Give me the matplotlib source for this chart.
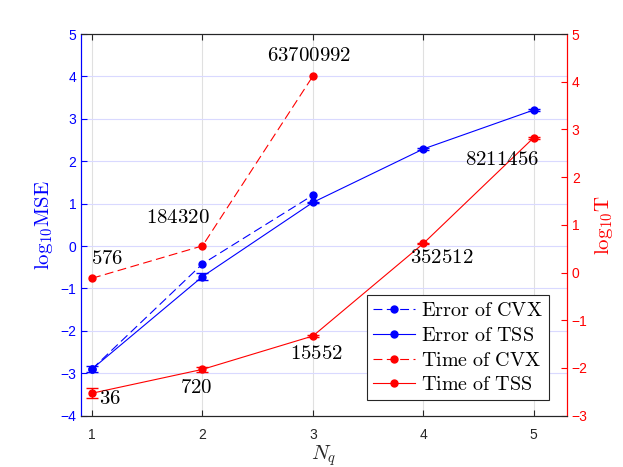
import matplotlib
matplotlib.use('Agg')
import matplotlib.pyplot as plt

plt.rcParams['mathtext.fontset'] = 'cm'
plt.rcParams['font.family'] = ['Liberation Sans', 'DejaVu Sans']

# data
nq = [1, 2, 3, 4, 5]
err_cvx = [-2.90, -0.42, 1.20]
err_tss = [-2.90, -0.72, 1.03, 2.29, 3.21]
err_tss_bar = [0.07, 0.08, 0.02, 0.02, 0.02]
time_cvx = [-0.12, 0.56, 4.12]
time_tss = [-2.53, -2.03, -1.33, 0.61, 2.83]
time_tss_bar = [0.10, 0.05, 0.02, 0.02, 0.02]

# size labels next to the time points (text, x, y on right axis)
labels = ['576', '184320', '63700992', '36', '720', '15552', '352512', '8211456']
label_x = [1.14, 1.78, 2.97, 1.16, 1.94, 3.03, 4.17, 4.71]
label_y = [0.30, 1.16, 4.56, -2.64, -2.42, -1.69, 0.32, 2.37]

blue = (0, 0, 1)
red = (1, 0, 0)
dark = (0.15, 0.15, 0.15)

fig = plt.figure(figsize=(6.23, 4.67), dpi=100)
ax1 = fig.add_axes([0.130, 0.110, 0.780, 0.817])
ax2 = ax1.twinx()

l1, = ax1.plot(nq[:3], err_cvx, '--', color=blue, marker='o', ms=5, lw=0.8,
               dashes=(8, 4))
l2 = ax1.errorbar(nq, err_tss, yerr=err_tss_bar, color=blue, marker='o', ms=5,
                  lw=0.8, capsize=4, elinewidth=0.8)
l3, = ax2.plot(nq[:3], time_cvx, '--', color=red, marker='o', ms=5, lw=0.8,
               dashes=(8, 4))
l4 = ax2.errorbar(nq, time_tss, yerr=time_tss_bar, color=red, marker='o', ms=5,
                  lw=0.8, capsize=4, elinewidth=0.8)

for t, x, y in zip(labels, label_x, label_y):
    ax2.text(x, y, r'$\mathrm{%s}$' % t, ha='center', va='center', fontsize=15)

ax1.set_xlim(0.9, 5.3)
ax1.set_ylim(-4, 5)
ax2.set_ylim(-3, 5)
ax1.set_xticks(nq)
ax1.set_yticks(range(-4, 6))
ax2.set_yticks(range(-3, 6))

ax1.set_xlabel(r'$N_q$', fontsize=15, color=dark, labelpad=1)
ax1.set_ylabel(r'$\mathrm{log}_{10}\mathrm{MSE}$', fontsize=15, color=blue, labelpad=4)
ax2.set_ylabel(r'$\mathrm{log}_{10}\mathrm{T}$', fontsize=15, color=red, labelpad=4)

ax1.yaxis.grid(True, color=(0.85, 0.85, 1.0), lw=0.8)
ax1.xaxis.grid(True, color=(0.88, 0.88, 0.88), lw=0.8)
ax1.set_axisbelow(True)

ax1.tick_params(axis='x', direction='in', top=True, colors=dark,
                labelsize=10, length=4, pad=9)
ax1.tick_params(axis='y', direction='in', colors=blue, labelsize=10, length=4)
ax2.tick_params(axis='y', direction='in', colors=red, labelsize=10, length=4)

for ax in (ax1, ax2):
    ax.spines['left'].set_color(blue)
    ax.spines['right'].set_color(red)
    ax.spines['top'].set_color(dark)
    ax.spines['bottom'].set_color(dark)

leg = ax2.legend([l1, l2[0], l3, l4[0]],
                 [r'$\mathrm{Error\ of\ CVX}$', r'$\mathrm{Error\ of\ TSS}$',
                  r'$\mathrm{Time\ of\ CVX}$', r'$\mathrm{Time\ of\ TSS}$'],
                 loc='lower right', bbox_to_anchor=(0.963, 0.04), fontsize=14.5,
                 fancybox=False, framealpha=1, edgecolor=dark,
                 handlelength=2.1, borderpad=0.3, labelspacing=0.28,
                 handletextpad=0.3, borderaxespad=0)
leg.get_frame().set_linewidth(0.8)

fig.savefig('out.png', dpi=100)
